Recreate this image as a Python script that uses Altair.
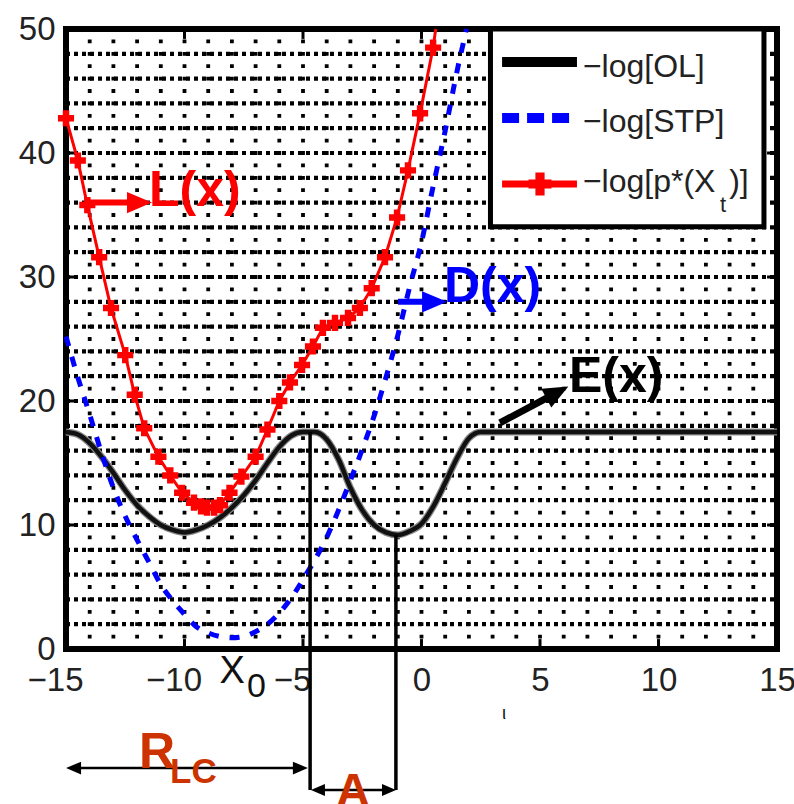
import altair as alt
import pandas as pd

FONT = "Liberation Sans"

# ---------------- data ----------------
ol_x = [-15, -14.5, -14, -13.5, -13, -12.5, -12, -11.5, -11, -10.5, -10, -9.5, -9, -8.5, -8, -7.5,
        -7, -6.5, -6, -5.5, -5, -4.5, -4, -3.5, -3, -2.5, -2, -1.5, -1, -0.5, 0, 0.5, 1, 1.5, 2, 2.5, 15]
ol_y = [17.5, 17.3, 16.6, 15.5, 14.2, 12.8, 11.6, 10.7, 10.0, 9.6, 9.4, 9.6, 10.0, 10.6, 11.4, 12.4,
        13.6, 15.0, 16.3, 17.2, 17.5, 17.5, 16.9, 15.3, 13.0, 11.2, 10.0, 9.4, 9.2, 9.5, 10.1, 11.5, 13.4,
        15.4, 17.0, 17.5, 17.5]

stp_x = [-15, -14.5, -14, -13.5, -13, -12.5, -12, -11.5, -11, -10.5, -10, -9.5, -9, -8.5, -8, -7.5,
         -7, -6.5, -6, -5.5, -5, -4.5, -4, -3.5, -3, -2.5, -2, -1.5, -1, -0.5, 0, 0.5, 1, 1.5, 1.9]
stp_y = [25.2, 21.9, 18.9, 15.8, 13.0, 10.7, 8.8, 7.0, 5.2, 3.9, 2.8, 1.8, 1.3, 1.0, 0.9, 1.0,
         1.4, 2.0, 2.9, 4.1, 5.6, 7.2, 9.0, 11.2, 13.6, 16.1, 18.8, 21.9, 25.3, 29.2, 32.8, 37.4, 41.8, 46.6, 50.0]

p_x = [-15, -14.5, -14.1, -13.6, -13.1, -12.5, -12.1, -11.7, -11.1, -10.6, -10.1, -9.6, -9.3, -9.05,
       -8.75, -8.5, -8.1, -7.6, -7.0, -6.5, -6.0, -5.55, -5.04, -4.58, -4.16, -3.65, -3.1, -2.6, -2.1,
       -1.54, -1.03, -0.57, -0.06, 0.49, 0.6]
p_y = [42.8, 39.4, 35.8, 31.6, 27.5, 23.7, 20.5, 17.8, 15.5, 14.0, 12.6, 11.8, 11.5, 11.4,
       11.4, 11.6, 12.6, 13.9, 15.5, 17.7, 20.0, 21.5, 22.9, 24.4, 25.9, 26.3, 26.7, 27.5, 29.1,
       31.6, 34.8, 38.6, 43.2, 48.5, 50.0]
p_marker = [True] * (len(p_x) - 1) + [False]

x_ticks = [-15, -10, -5, 0, 5, 10, 15]
y_ticks = [0, 10, 20, 30, 40, 50]
inner_x_ticks = [-10, -5, 0, 5, 10]
inner_y_ticks = [10, 20, 30, 40]
vgrid_x = list(range(-14, 15))
hgrid_y = list(range(2, 50, 2))

legend_labels = ["\u2212log[OL]", "\u2212log[STP]", "\u2212log[p*(X"]

# ---------------- scales / axes ----------------
xs = alt.Scale(domain=[-15, 15], nice=False, zero=False)
ys = alt.Scale(domain=[0, 50], nice=False, zero=False)
xaxis = alt.Axis(values=x_ticks, title=None, ticks=False, domain=False, grid=False,
                 labelFont=FONT, labelFontSize=33, labelColor="#222", labelPadding=15,
                 labelFlush=False, labelOverlap=False,
                 labelOffset={"condition": {"test": "datum.value < 0", "value": -11}, "value": 0})
yaxis = alt.Axis(values=y_ticks, title=None, ticks=False, domain=False, grid=False,
                 labelFont=FONT, labelFontSize=33, labelColor="#222", labelPadding=11,
                 labelFlush=False, labelOverlap=False)


def X(f):
    return alt.X(f, type="quantitative", scale=xs, axis=xaxis)


def Y(f):
    return alt.Y(f, type="quantitative", scale=ys, axis=yaxis)


# ---------------- grid ----------------
vgrid = pd.DataFrame({"x": vgrid_x, "y": 0, "y2": 50})
hgrid = pd.DataFrame({"y": hgrid_y, "x": -15, "x2": 15})
grid_v = alt.Chart(vgrid).mark_rule(color="black", strokeWidth=3.8, strokeDash=[3.8, 8.6],
                                    strokeDashOffset=1.9).encode(x=X("x"), y=Y("y"), y2="y2")
grid_h = alt.Chart(hgrid).mark_rule(color="black", strokeWidth=4.2, strokeDash=[4, 4]).encode(
    x=X("x"), x2="x2", y=Y("y"))

ticks_rows = []
for v in inner_x_ticks:
    ticks_rows.append({"x": v, "x2": v, "y": 0, "y2": 0.8})
    ticks_rows.append({"x": v, "x2": v, "y": 50, "y2": 49.2})
for v in inner_y_ticks:
    ticks_rows.append({"x": -15, "x2": -14.58, "y": v, "y2": v})
    ticks_rows.append({"x": 15, "x2": 14.58, "y": v, "y2": v})
ticks = alt.Chart(pd.DataFrame(ticks_rows)).mark_rule(color="black", strokeWidth=3).encode(
    x=X("x"), x2="x2", y=Y("y"), y2="y2")

# ---------------- curves ----------------
ol_df = pd.DataFrame({"x": ol_x, "y": ol_y})
stp_df = pd.DataFrame({"x": stp_x, "y": stp_y})
p_df = pd.DataFrame({"x": p_x, "y": p_y, "m": p_marker})

ol_under = alt.Chart(ol_df).mark_line(color="#888", strokeWidth=7, interpolate="monotone").encode(
    x=X("x"), y=Y("y"))
ol_line = alt.Chart(ol_df).mark_line(color="#111", strokeWidth=4.5, interpolate="monotone").encode(
    x=X("x"), y=Y("y"))
stp_line = alt.Chart(stp_df).mark_line(color="#0000FF", strokeWidth=5, strokeDash=[10, 11],
                                       interpolate="monotone").encode(x=X("x"), y=Y("y"))
p_line = alt.Chart(p_df).mark_line(color="#FF0000", strokeWidth=3).encode(x=X("x"), y=Y("y"))
p_pts = alt.Chart(p_df).transform_filter("datum.m").mark_point(
    shape="cross", filled=True, color="#FF0000", size=260, opacity=1).encode(x=X("x"), y=Y("y"))

# ---------------- legend ----------------
leg_box = alt.Chart(pd.DataFrame({"x": [2.91], "x2": [14.45], "y": [34.06], "y2": [50.0]})).mark_rect(
    fill="white", stroke="black", strokeWidth=5).encode(x=X("x"), x2="x2", y=Y("y"), y2="y2")
leg_black = alt.Chart(pd.DataFrame({"x": [3.4], "x2": [6.56], "y": [47.34]})).mark_rule(
    color="black", strokeWidth=10).encode(x=X("x"), x2="x2", y=Y("y"))
leg_blue = alt.Chart(pd.DataFrame({"x": [3.4], "x2": [6.35], "y": [42.82]})).mark_rule(
    color="#0000FF", strokeWidth=10, strokeDash=[17, 8]).encode(x=X("x"), x2="x2", y=Y("y"))
leg_red = alt.Chart(pd.DataFrame({"x": [3.4], "x2": [6.56], "y": [37.5]})).mark_rule(
    color="#FF0000", strokeWidth=7).encode(x=X("x"), x2="x2", y=Y("y"))
leg_red_pt = alt.Chart(pd.DataFrame({"x": [5.0], "y": [37.5]})).mark_point(
    shape="cross", filled=True, color="#FF0000", size=529, opacity=1).encode(x=X("x"), y=Y("y"))

leg_text_df = pd.DataFrame({
    "x": [6.81, 6.81, 6.81, 12.6, 12.98],
    "y": [46.13, 41.7, 36.85, 35.24, 36.85],
    "t": legend_labels + ["t", ")]"],
    "s": [32, 32, 32, 22, 32],
})
leg_text = alt.Chart(leg_text_df).mark_text(font=FONT, align="left", baseline="alphabetic",
                                            color="#222").encode(
    x=X("x"), y=Y("y"), text="t", size=alt.Size("s:Q", scale=None))

# ---------------- annotations ----------------
arrow_lines = pd.DataFrame({
    "x": [-14.11, -0.99, 3.31, -14.6, -4.5, -4.70, -1.08],
    "y": [36.0, 28.0, 18.23, -9.6, -11.37, 17.5, 9.2],
    "x2": [-11.95, 0.55, 5.73, -5.2, -1.3, -4.70, -1.08],
    "y2": [36.0, 28.0, 20.7, -9.6, -11.37, -11.37, -11.37],
    "c": ["#FF0000", "#0000FF", "black", "black", "black", "black", "black"],
    "w": [6, 6, 7, 2.5, 2.5, 3.5, 3.5],
})
arrows = alt.Chart(arrow_lines).mark_rule().encode(
    x=X("x"), y=Y("y"), x2="x2", y2="y2",
    color=alt.Color("c:N", scale=None), size=alt.Size("w:Q", scale=None))

heads = pd.DataFrame({
    "x": [-11.90, 0.55, 5.73, -14.68, -5.11, -4.37, -1.37],
    "y": [36.0, 28.0, 20.7, -9.6, -9.6, -11.37, -11.37],
    "a": [0, 0, 331.8, 180, 0, 180, 0],
    "s": [625, 625, 625, 225, 225, 196, 196],
    "c": ["#FF0000", "#0000FF", "black", "black", "black", "black", "black"],
})
arrow_heads = alt.Chart(heads).mark_point(shape="M-1,-0.85L1,0L-1,0.85Z", filled=True, opacity=1,
                                          strokeWidth=0).encode(
    x=X("x"), y=Y("y"), angle=alt.Angle("a:Q", scale=None),
    size=alt.Size("s:Q", scale=None), color=alt.Color("c:N", scale=None))

bold_df = pd.DataFrame({
    "x": [-11.5, 0.95, 6.22, -11.92, -10.61, -3.62],
    "y": [35.7, 28.0, 20.7, -9.6, -10.81, -12.72],
    "t": ["L(x)", "D(x)", "E(x)", "R", "LC", "A"],
    "c": ["#FF0000", "#0000FF", "black", "#CC3300", "#CC3300", "#CC3300"],
    "s": [50, 50, 50, 50, 35, 48],
})
bold_text = alt.Chart(bold_df).mark_text(font=FONT, fontWeight="bold", align="left",
                                         baseline="alphabetic").encode(
    x=X("x"), y=Y("y"), text="t", color=alt.Color("c:N", scale=None),
    size=alt.Size("s:Q", scale=None))

plain_df = pd.DataFrame({
    "x": [-8.52, -7.36, 3.4],
    "y": [-2.74, -3.87, -5.65],
    "t": ["X", "0", "\u03b9"],
    "s": [38, 34, 18],
})
plain_text = alt.Chart(plain_df).mark_text(font=FONT, align="left", baseline="alphabetic",
                                           color="#111").encode(
    x=X("x"), y=Y("y"), text="t", size=alt.Size("s:Q", scale=None))

chart = alt.layer(
    grid_v, grid_h, ticks, ol_under, ol_line, stp_line, p_line, p_pts,
    leg_box, leg_black, leg_blue, leg_red, leg_red_pt, leg_text,
    arrows, arrow_heads, bold_text, plain_text,
).properties(
    width=711, height=620,
    autosize=alt.AutoSizeParams(type="none"),
    padding={"left": 66, "top": 29, "right": 17, "bottom": 155},
).configure(background="white").configure_view(stroke="black", strokeWidth=6)

chart.save("out.html", embed_options={"renderer": "svg", "actions": False})
